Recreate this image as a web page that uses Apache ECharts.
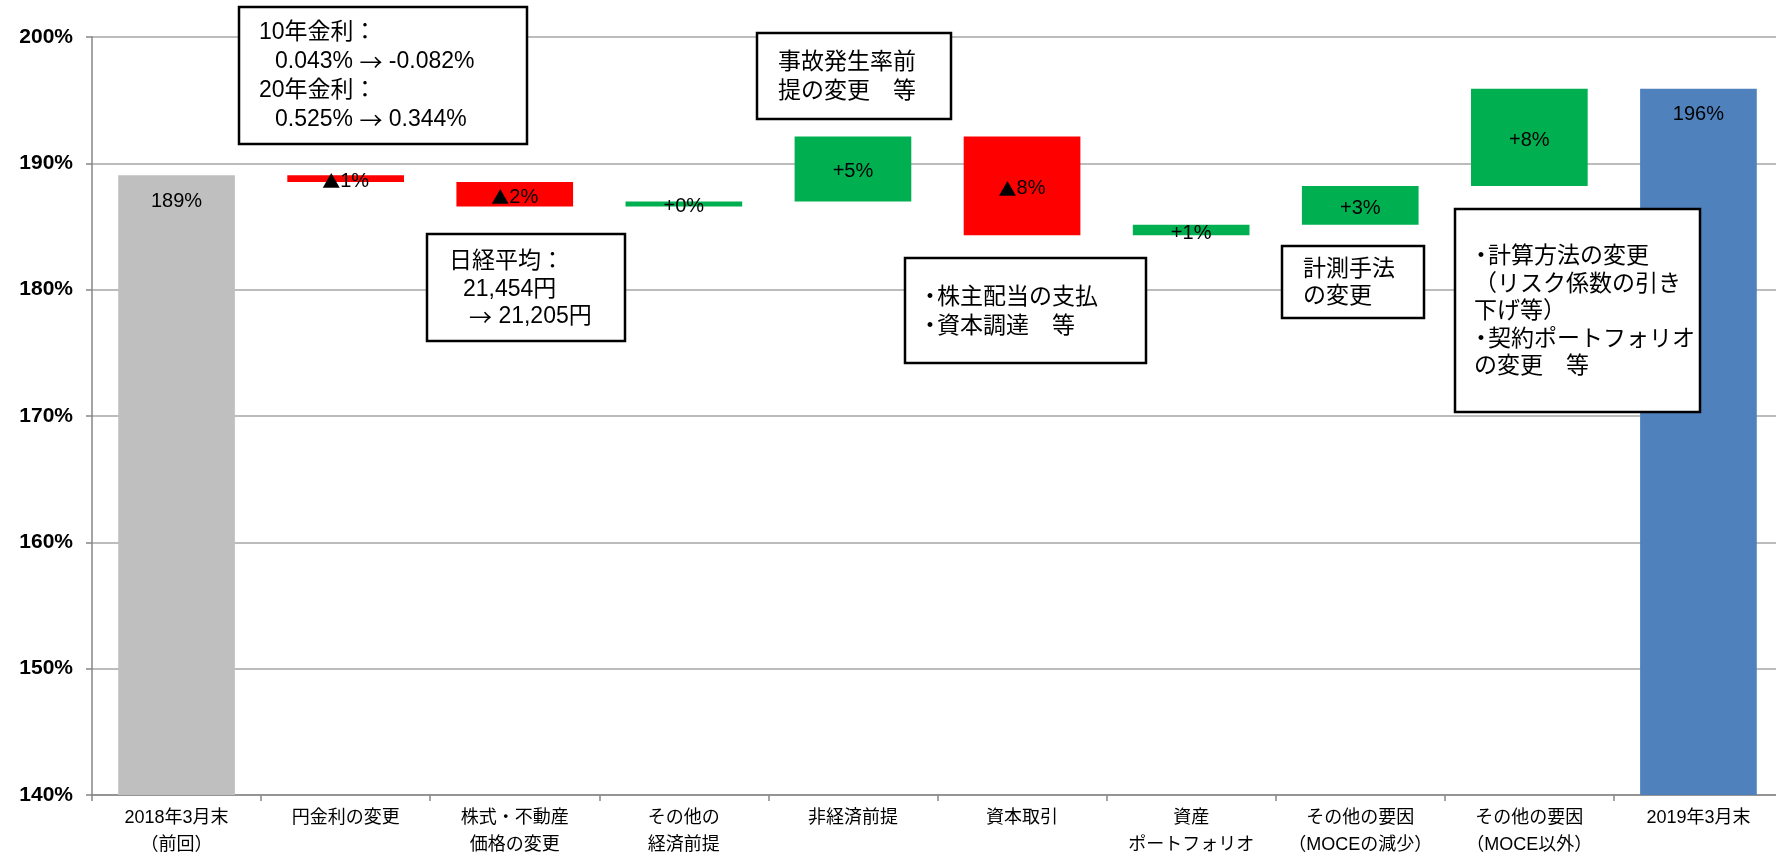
<!DOCTYPE html>
<html>
<head>
<meta charset="utf-8">
<script src="https://cdn.jsdelivr.net/npm/echarts@6/dist/echarts.min.js"></script>
<style>
  html, body { margin: 0; padding: 0; background: #fff; overflow: hidden; }
  /* the plot area runs a few pixels past the right edge of the page */
  #chart { width: 1783px; height: 859px; }
</style>
</head>
<body>
<div id="chart"></div>
<script>
// Solvency ratio bridge: 2018年3月末 -> 2019年3月末 (values in %)
const categories = [
  '2018年3月末\n（前回）',
  '円金利の変更',
  '株式・不動産\n価格の変更',
  'その他の\n経済前提',
  '非経済前提',
  '資本取引',
  '資産\nポートフォリオ',
  'その他の要因\n（MOCEの減少）',
  'その他の要因\n（MOCE以外）',
  '2019年3月末'
];
const startValue = 189.06;
const deltas = [-0.53, -1.94, 0.39, 5.15, -7.83, 0.84, 3.07, 7.69];
const endValue = 195.9;

const yMin = 140;
const yMax = 200;
const yStep = 10;

// Explanatory callouts next to the steps
const notes = [
  { x: 239, y: 7, w: 288, h: 137, tx: 259, ty: 33, lh: 29,
    lines: [['10年金利：', 0], ['0.043% → -0.082%', 16], ['20年金利：', 0], ['0.525% → 0.344%', 16]] },
  { x: 757, y: 33, w: 194, h: 86, tx: 778, ty: 63, lh: 29,
    lines: [['事故発生率前', 0], ['提の変更　等', 0]] },
  { x: 427, y: 234, w: 198, h: 107, tx: 449, ty: 262, lh: 27.5,
    lines: [['日経平均：', 0], ['21,454円', 14], ['→ 21,205円', 20]] },
  { x: 905, y: 258, w: 241, h: 105, tx: 923, ty: 298, lh: 29,
    lines: [['・株主配当の支払', 0], ['・資本調達　等', 0]] },
  { x: 1282, y: 246, w: 142, h: 72, tx: 1303, ty: 270, lh: 27,
    lines: [['計測手法', 0], ['の変更', 0]] },
  { x: 1455, y: 209, w: 245, h: 203, tx: 1474, ty: 257, lh: 27.5,
    lines: [['・計算方法の変更', 0], ['（リスク係数の引き', 0], ['下げ等）', 0], ['・契約ポートフォリオ', 0], ['の変更　等', 0]] }
];

const COLOR_START = '#BFBFBF';
const COLOR_END = '#4F81BD';
const COLOR_UP = '#00B050';
const COLOR_DOWN = '#FF0000';
const FONT = '"Liberation Sans", "Noto Sans CJK JP", sans-serif';
const CJK_FONT = '"Noto Sans CJK JP", sans-serif';
const NOTE_FONT = '23px ' + FONT;

function stepLabel(d) {
  const v = Math.round(Math.abs(d)) + '%';
  return d < 0 ? '{tri|▲}{v|' + v + '}' : '{v|+' + v + '}';
}

// Build the floating steps: invisible base + visible segment
const baseData = [];
const stepData = [];
baseData.push(0);
stepData.push({
  value: startValue,
  itemStyle: { color: COLOR_START },
  label: { position: 'insideTop', distance: 16, formatter: '{v|' + Math.round(startValue) + '%}' }
});
let level = startValue;
deltas.forEach(function (d) {
  const next = level + d;
  baseData.push(Math.min(level, next));
  stepData.push({
    value: Math.abs(d),
    itemStyle: { color: d < 0 ? COLOR_DOWN : COLOR_UP },
    label: { position: 'inside', offset: [0, 3], formatter: stepLabel(d) }
  });
  level = next;
});
baseData.push(0);
stepData.push({
  value: endValue,
  itemStyle: { color: COLOR_END },
  label: { position: 'insideTop', distance: 16, formatter: '{v|' + Math.round(endValue) + '%}' }
});

// Callout boxes: frame, then one text element per line; arrows use the CJK glyph,
// leading bullets sit tight against the text that follows them
const graphics = [];
function noteText(x, y, text, align) {
  const rich = text.indexOf('→') >= 0;
  return {
    type: 'text', z: 101, x: x, y: y,
    style: {
      text: rich ? text.split('→').join('{a|→}') : text,
      fill: '#000', font: NOTE_FONT, verticalAlign: 'middle', align: align || 'left',
      rich: rich ? { a: { font: '23px ' + CJK_FONT, fill: '#000', verticalAlign: 'middle' } } : undefined
    }
  };
}
notes.forEach(function (n) {
  graphics.push({
    type: 'rect', z: 100,
    shape: { x: n.x, y: n.y, width: n.w, height: n.h },
    style: { fill: '#fff', stroke: '#000', lineWidth: 2.5 }
  });
  n.lines.forEach(function (ln, i) {
    const x = n.tx + ln[1];
    const y = n.ty + i * n.lh;
    if (ln[0].charAt(0) === '・') {
      graphics.push(noteText(x + 7, y, '・', 'center'));
      graphics.push(noteText(x + 14, y, ln[0].slice(1)));
    } else {
      graphics.push(noteText(x, y, ln[0]));
    }
  });
});

const chart = echarts.init(document.getElementById('chart'), null, { renderer: 'canvas' });
chart.setOption({
  animation: false,
  backgroundColor: '#fff',
  grid: { left: 92, right: 0, top: 37, bottom: 60, containLabel: false },
  xAxis: {
    type: 'category',
    data: categories,
    axisLine: { lineStyle: { color: '#868686', width: 1.5 } },
    axisTick: { show: true, length: 6, lineStyle: { color: '#868686', width: 1.5 } },
    axisLabel: { color: '#000', fontSize: 18, fontFamily: FONT, lineHeight: 27, margin: 10, interval: 0 }
  },
  yAxis: {
    type: 'value',
    min: yMin, max: yMax, interval: yStep,
    axisLine: { show: true, lineStyle: { color: '#868686', width: 1.5 } },
    axisTick: { show: true, length: 6, lineStyle: { color: '#868686', width: 1.5 } },
    splitLine: { lineStyle: { color: '#A6A6A6', width: 1.5 } },
    axisLabel: { color: '#000', fontSize: 21, fontWeight: 'bold', fontFamily: FONT, margin: 19, formatter: '{value}%' }
  },
  series: [
    {
      type: 'bar', stack: 'bridge', silent: true,
      itemStyle: { color: 'rgba(0,0,0,0)' },
      barCategoryGap: '31%',
      data: baseData
    },
    {
      type: 'bar', stack: 'bridge',
      barCategoryGap: '31%',
      label: {
        show: true, color: '#000',
        rich: {
          v: { fontSize: 20, fontFamily: FONT, color: '#000' },
          tri: { fontSize: 18, fontFamily: CJK_FONT, color: '#000' }
        }
      },
      data: stepData
    }
  ],
  graphic: graphics
});
</script>
</body>
</html>
